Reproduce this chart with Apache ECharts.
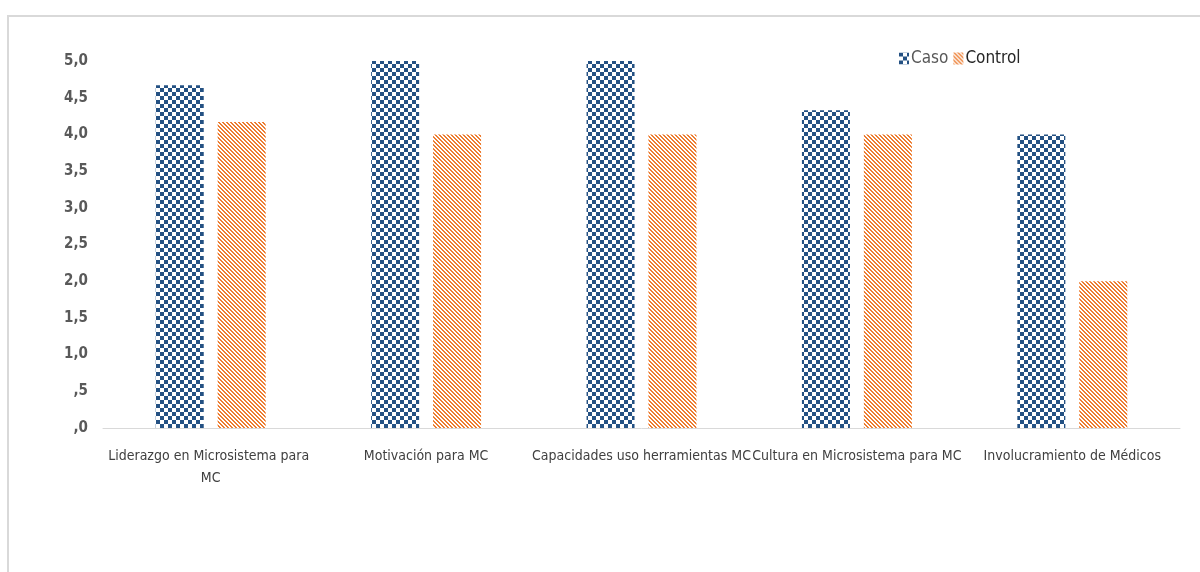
<!DOCTYPE html>
<html>
<head>
<meta charset="utf-8">
<style>
  html, body { margin: 0; padding: 0; background: #ffffff; }
  #chart { width: 1200px; height: 572px; }
</style>
<script src="https://cdn.jsdelivr.net/npm/echarts@6/dist/echarts.min.js"></script>
</head>
<body>
<div id="chart"></div>
<script>
// Dimensiones evaluadas
const categories = [
  'Liderazgo en Microsistema para MC',
  'Motivación para MC',
  'Capacidades uso herramientas MC',
  'Cultura en Microsistema para MC',
  'Involucramiento de Médicos'
];
// Puntuaciones medias por grupo
const casoValues = [4.67, 5.0, 5.0, 4.33, 4.0];
const controlValues = [4.17, 4.0, 4.0, 4.0, 2.0];
const seriesNames = ['Caso', 'Control'];

const FONT = "'DejaVu Sans Condensed', 'Liberation Sans Narrow', 'Noto Sans', sans-serif";

// Relleno a cuadros (Caso)
function checkerPattern() {
  const c = document.createElement('canvas');
  c.width = 8; c.height = 8;
  const g = c.getContext('2d');
  g.fillStyle = '#ffffff';
  g.fillRect(0, 0, 8, 8);
  g.fillStyle = '#245183';
  g.fillRect(0, 0, 4, 4);
  g.fillRect(4, 4, 4, 4);
  return c;
}

// Relleno a rayas diagonales (Control)
function stripePattern() {
  const c = document.createElement('canvas');
  c.width = 4; c.height = 4;
  const g = c.getContext('2d');
  g.fillStyle = '#ffffff';
  g.fillRect(0, 0, 4, 4);
  g.fillStyle = '#ED7D31';
  for (let y = 0; y < 4; y++) {
    for (let x = 0; x < 4; x++) {
      const d = ((x - y) % 4 + 4) % 4;
      if (d === 0 || d === 1) g.fillRect(x, y, 1, 1);
    }
  }
  return c;
}

const chart = echarts.init(document.getElementById('chart'), null, { renderer: 'canvas' });

chart.setOption({
  animation: false,
  backgroundColor: '#ffffff',
  graphic: [{
    type: 'rect',
    shape: { x: 8, y: 16, width: 1300, height: 700 },
    style: { fill: 'none', stroke: '#d9d9d9', lineWidth: 2 },
    silent: true
  }],
  legend: {
    left: 894,
    top: 45,
    itemWidth: 10,
    itemHeight: 12,
    itemGap: 5,
    icon: 'rect',
    textStyle: { fontFamily: FONT, fontSize: 17, padding: [0, 0, 0, -3] },
    data: [
      { name: seriesNames[0], textStyle: { color: '#595959' } },
      { name: seriesNames[1], textStyle: { color: '#262626' } }
    ]
  },
  grid: { left: 103, right: 20, top: 61, bottom: 144 },
  xAxis: {
    type: 'category',
    data: categories,
    axisLine: { lineStyle: { color: '#d9d9d9', width: 1 } },
    axisTick: { show: false },
    axisLabel: {
      interval: 0,
      margin: 17,
      width: 221,
      overflow: 'break',
      lineHeight: 22,
      fontFamily: FONT,
      fontSize: 14,
      color: '#404040'
    }
  },
  yAxis: {
    type: 'value',
    min: 0,
    max: 5,
    interval: 0.5,
    axisLine: { show: false },
    axisTick: { show: false },
    splitLine: { show: false },
    axisLabel: {
      margin: 15,
      fontFamily: FONT,
      fontSize: 15,
      fontWeight: 'bold',
      color: '#595959',
      formatter: v => v.toFixed(1).replace('.', ',').replace(/^0,/, ',')
    }
  },
  series: [
    {
      name: seriesNames[0],
      type: 'bar',
      data: casoValues,
      barWidth: 48,
      barGap: '29%',
      itemStyle: { color: { image: checkerPattern(), repeat: 'repeat' } }
    },
    {
      name: seriesNames[1],
      type: 'bar',
      data: controlValues,
      barWidth: 48,
      itemStyle: { color: { image: stripePattern(), repeat: 'repeat' } }
    }
  ]
});
</script>
</body>
</html>
